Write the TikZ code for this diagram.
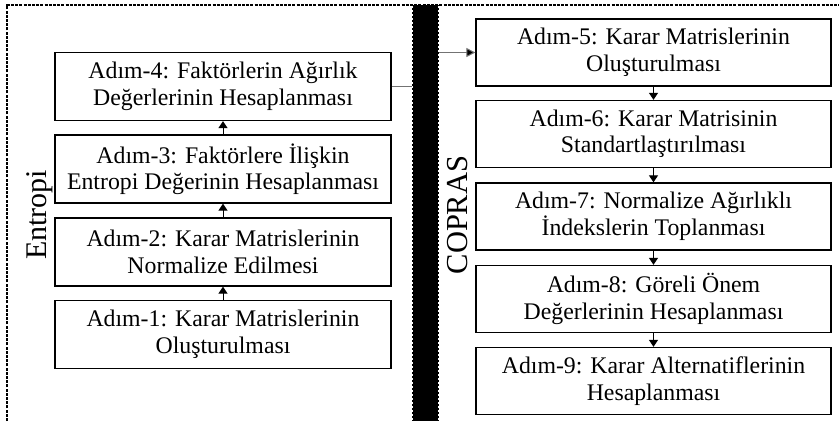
\documentclass[tikz,border=0pt]{standalone}
\usepackage{fontspec}
\setmainfont{Liberation Serif}
\usetikzlibrary{arrows.meta}
\begin{document}
\begin{tikzpicture}[x=1pt,y=-1pt,
  stepbox/.style={draw=black,line width=1.3pt,rectangle,align=center,
    inner sep=0pt,font=\fontsize{23.8}{26.5}\selectfont},
  lbox/.style={stepbox,minimum width=336pt,minimum height=68pt},
  rbox/.style={stepbox,minimum width=355pt,minimum height=67pt},
  flow/.style={line width=1pt,-{Triangle[length=7pt,width=9pt]}},
  frame/.style={line width=1.3pt,dash pattern=on 3pt off 1.2pt}]
\useasboundingbox (0,0) rectangle (839,421);
% frames
\draw[frame] (7,421) -- (7,5) -- (839,5);
% left boxes
\node[lbox] (a4) at (223,86.5) {Adım-4: Faktörlerin Ağırlık\\Değerlerinin Hesaplanması};
\node[lbox] (a3) at (223,169) {Adım-3: Faktörlere İlişkin\\Entropi Değerinin Hesaplanması};
\node[lbox] (a2) at (223,252) {Adım-2: Karar Matrislerinin\\Normalize Edilmesi};
\node[lbox] (a1) at (223,334.5) {Adım-1: Karar Matrislerinin\\Oluşturulması};
% right boxes
\node[rbox] (a5) at (653.5,52.5) {Adım-5: Karar Matrislerinin\\Oluşturulması};
\node[rbox] (a6) at (653.5,134) {Adım-6: Karar Matrisinin\\Standartlaştırılması};
\node[rbox] (a7) at (653.5,216.5) {Adım-7: Normalize Ağırlıklı\\İndekslerin Toplanması};
\node[rbox] (a8) at (653.5,299) {Adım-8: Göreli Önem\\Değerlerinin Hesaplanması};
\node[rbox] (a9) at (653.5,381) {Adım-9: Karar Alternatiflerinin\\Hesaplanması};
% arrows
\draw[flow] (a1) -- (a2);
\draw[flow] (a2) -- (a3);
\draw[flow] (a3) -- (a4);
\draw[flow] (a5) -- (a6);
\draw[flow] (a6) -- (a7);
\draw[flow] (a7) -- (a8);
\draw[flow] (a8) -- (a9);
\draw[line width=1pt,draw=black!55,-{Triangle[length=9pt,width=9pt,fill=black]}] (a4.east) -- ++(34,0) |- (a5.west);
% black bar
\fill[black] (412,5) rectangle (439,421);
\draw[white,line width=0.6pt,dash pattern=on 2pt off 2pt] (412.5,6) -- (412.5,421);
\draw[white,line width=0.6pt,dash pattern=on 2pt off 2pt] (438.5,6) -- (438.5,421);
% labels
\node[rotate=90,font=\fontsize{30}{30}\selectfont,inner sep=0pt] (ent) at (40,215) {Entropi};
\node[rotate=90,font=\fontsize{30.5}{30}\selectfont,inner sep=0pt] (cop) at (458,215) {COPRAS};
\end{tikzpicture}
\end{document}
